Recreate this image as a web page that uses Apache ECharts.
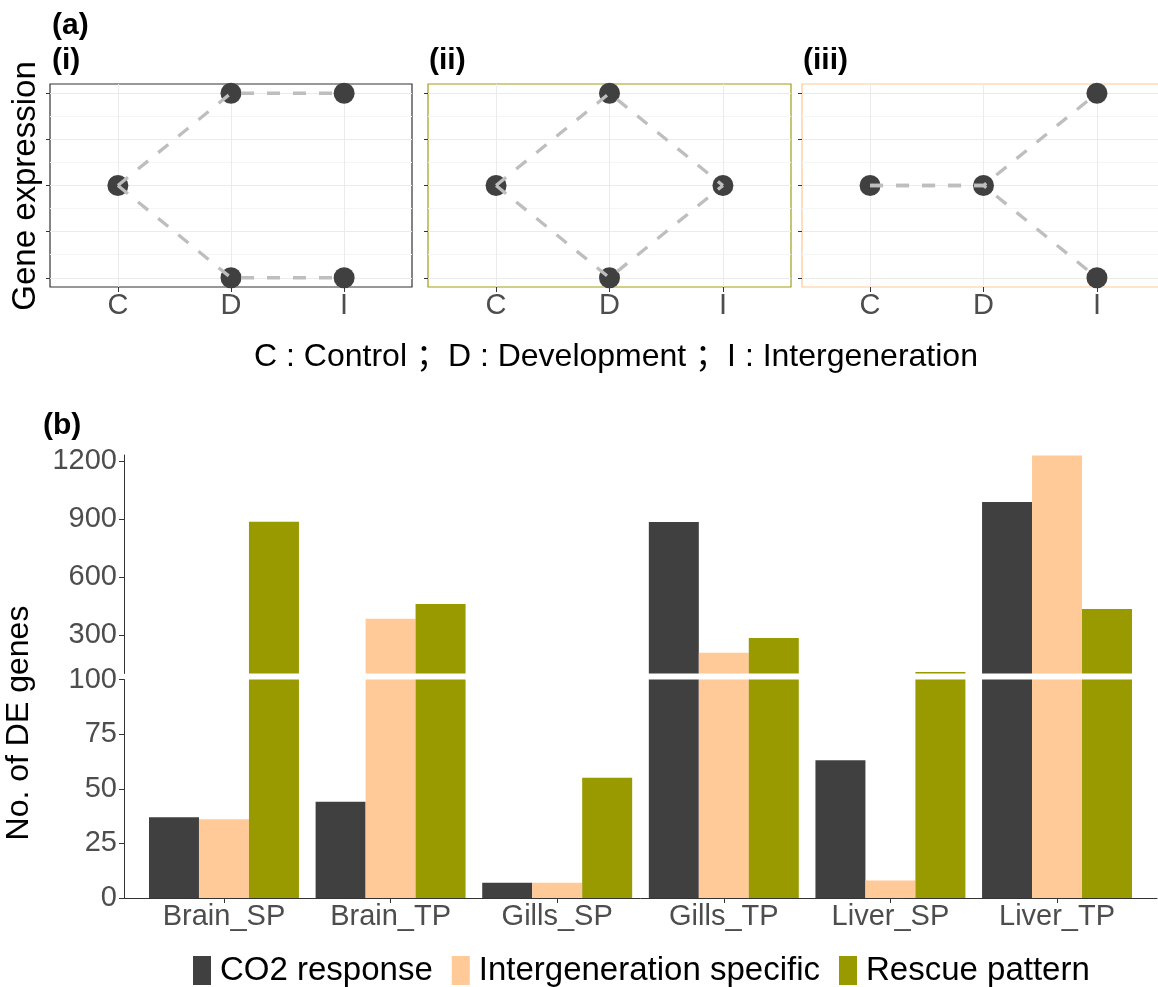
<!DOCTYPE html>
<html>
<head>
<meta charset="utf-8">
<script src="https://cdn.jsdelivr.net/npm/echarts@6/dist/echarts.min.js"></script>
<style>
  html, body { margin: 0; padding: 0; background: #ffffff; }
  #chart { width: 1158px; height: 987px; }
</style>
</head>
<body>
<div id="chart"></div>
<script>
// ---- Panel (a): schematic expression trajectories over the three stages ----
const stages = ['C', 'D', 'I'];
const stageCaption = 'C : Control \uFF1BD : Development \uFF1BI : Intergeneration';
const patternI_up = [2, 3, 3];
const patternI_down = [2, 1, 1];
const patternII_up = [2, 3, 2];
const patternII_down = [2, 1, 2];
const patternIII_up = [2, 2, 3];
const patternIII_down = [2, 2, 1];
const exprTicks = [1, 1.5, 2, 2.5, 3];
const exprMinorTicks = [1.25, 1.75, 2.25, 2.75];

// ---- Panel (b): number of DE genes per tissue / pCO2 group ----
const tissues = ['Brain_SP', 'Brain_TP', 'Gills_SP', 'Gills_TP', 'Liver_SP', 'Liver_TP'];
const co2Response = [37, 44, 7, 884, 63, 987];
const intergenSpecific = [36, 383, 7, 207, 8, 1228];
const rescuePattern = [885, 460, 55, 284, 108, 434];
const upperTicks = [300, 600, 900, 1200];
const groupNames = ['CO2 response', 'Intergeneration specific', 'Rescue pattern'];

const FONT = "'Liberation Sans', Arial, 'Noto Sans CJK SC', sans-serif";
const AXIS_COL = '#333333';
const LABEL_COL = '#4d4d4d';
const COLORS = ['#404040', '#ffca98', '#999900'];

const chart = echarts.init(document.getElementById('chart'), null, { renderer: 'canvas' });

const panels = [
  { left: 50, width: 362, border: '#333333', up: patternI_up, down: patternI_down },
  { left: 428, width: 363, border: '#9f9f14', up: patternII_up, down: patternII_down },
  { left: 802, width: 363, border: '#ffc994', up: patternIII_up, down: patternIII_down }
];
const stageIdx = stages.map((s, i) => i);

const grids = [], xAxes = [], yAxes = [], series = [];

panels.forEach((p, k) => {
  grids.push({
    left: p.left, top: 84, width: p.width, height: 203,
    show: true, borderColor: p.border, borderWidth: 1.2,
    backgroundColor: 'transparent', containLabel: false, outerBoundsMode: 'none'
  });
  xAxes.push({
    type: 'value', gridIndex: k, min: -0.6, max: 2.6,
    axisLine: { show: false, onZero: false },
    axisTick: { show: true, length: 5, customValues: stageIdx, lineStyle: { color: AXIS_COL, width: 1 } },
    axisLabel: {
      show: true, customValues: stageIdx, formatter: v => stages[Math.round(v)],
      color: LABEL_COL, fontSize: 29, fontFamily: FONT, margin: 4
    },
    splitLine: { show: true, lineStyle: { color: '#ebebeb', width: 1 } }
  });
  yAxes.push({
    type: 'value', gridIndex: k, min: 0.9, max: 3.1, position: 'left',
    axisLine: { show: false, onZero: false },
    axisTick: { show: true, length: 4, customValues: exprTicks, lineStyle: { color: AXIS_COL, width: 1 } },
    axisLabel: { show: false },
    splitLine: { show: true, lineStyle: { color: '#ebebeb', width: 1 } }
  });
  yAxes.push({
    type: 'value', gridIndex: k, min: 0.9, max: 3.1, position: 'left',
    axisLine: { show: false, onZero: false },
    axisTick: { show: false, customValues: exprMinorTicks },
    axisLabel: { show: false },
    splitLine: { show: true, lineStyle: { color: '#f5f5f5', width: 1 } }
  });
  // points (unique stage/level pairs)
  const seen = {};
  const pts = [];
  [p.up, p.down].forEach(arr => arr.forEach((v, i) => {
    const key = i + ':' + v;
    if (!seen[key]) { seen[key] = true; pts.push([i, v]); }
  }));
  series.push({
    type: 'scatter', xAxisIndex: k, yAxisIndex: 2 * k, data: pts,
    symbol: 'circle', symbolSize: 21, itemStyle: { color: '#404040', opacity: 1 },
    z: 2, silent: true, clip: false
  });
  [p.up, p.down].forEach(arr => {
    series.push({
      type: 'line', xAxisIndex: k, yAxisIndex: 2 * k,
      data: arr.map((v, i) => [i, v]),
      showSymbol: false, symbol: 'none', clip: false, silent: true,
      lineStyle: { color: '#bebebe', width: 3.3, type: [13, 13], opacity: 1 },
      z: 3
    });
  });
});

// ---- broken-axis bar chart: upper segment (100-1230) and lower segment (0-100) ----
const UPPER = 3, LOWER = 4;
grids.push({ left: 124, top: 455, width: 1033, height: 218.5, show: false, containLabel: false, outerBoundsMode: 'none' });
grids.push({ left: 124, top: 679.5, width: 1033, height: 218.5, show: false, containLabel: false, outerBoundsMode: 'none' });

const tissueIdx = tissues.map((t, i) => i);
xAxes.push({ type: 'value', gridIndex: UPPER, min: -0.6, max: 5.6, show: false });
xAxes.push({
  type: 'value', gridIndex: LOWER, min: -0.6, max: 5.6,
  axisLine: { show: true, onZero: false, lineStyle: { color: AXIS_COL, width: 1 } },
  axisTick: { show: true, length: 5, customValues: tissueIdx, lineStyle: { color: AXIS_COL, width: 1 } },
  axisLabel: {
    show: true, customValues: tissueIdx, formatter: v => tissues[Math.round(v)],
    color: LABEL_COL, fontSize: 29, fontFamily: FONT, margin: 4
  },
  splitLine: { show: false }
});
const plain = v => String(v);
const yUpperIdx = yAxes.length;
yAxes.push({
  type: 'value', gridIndex: UPPER, min: 100, max: 1230,
  axisLine: { show: true, onZero: false, lineStyle: { color: AXIS_COL, width: 1 } },
  axisTick: { show: true, length: 5, customValues: upperTicks, lineStyle: { color: AXIS_COL, width: 1 } },
  axisLabel: { show: true, customValues: upperTicks, formatter: plain, color: LABEL_COL, fontSize: 29, fontFamily: FONT, margin: 7 },
  splitLine: { show: false }
});
const yLowerIdx = yAxes.length;
yAxes.push({
  type: 'value', gridIndex: LOWER, min: 0, max: 100, interval: 25,
  axisLine: { show: true, onZero: false, lineStyle: { color: AXIS_COL, width: 1 } },
  axisTick: { show: true, length: 5, lineStyle: { color: AXIS_COL, width: 1 } },
  axisLabel: { show: true, formatter: plain, color: LABEL_COL, fontSize: 29, fontFamily: FONT, margin: 7 },
  splitLine: { show: false }
});

[co2Response, intergenSpecific, rescuePattern].forEach((vals, g) => {
  [[UPPER, yUpperIdx], [LOWER, yLowerIdx]].forEach(([xi, yi]) => {
    series.push({
      type: 'bar', name: groupNames[g], xAxisIndex: xi, yAxisIndex: yi,
      data: vals.map((v, i) => [i, v]),
      barCategoryGap: '10%', barGap: '0%', clip: true, silent: true,
      itemStyle: { color: COLORS[g], opacity: 1 }
    });
  });
});

const labelText = (text, x, y, extra) => Object.assign({
  type: 'text', x: x, y: y, silent: true,
  style: Object.assign({
    text: text, fill: '#000000', fontFamily: FONT, fontSize: 30,
    align: 'left', verticalAlign: 'middle'
  }, extra || {})
});

const option = {
  animation: false,
  backgroundColor: '#ffffff',
  grid: grids,
  xAxis: xAxes,
  yAxis: yAxes,
  series: series,
  legend: {
    data: groupNames, left: 193, top: 954, padding: 0,
    icon: 'rect', itemWidth: 18, itemHeight: 29, itemGap: 19,
    selectedMode: false,
    textStyle: { fontSize: 33, color: '#000000', fontFamily: FONT, padding: [0, 0, 0, 4] }
  },
  graphic: [
    labelText('(a)', 52, 26, { fontWeight: 'bold' }),
    labelText('(i)', 52, 61, { fontWeight: 'bold' }),
    labelText('(ii)', 429, 61, { fontWeight: 'bold' }),
    labelText('(iii)', 803, 61, { fontWeight: 'bold' }),
    labelText('(b)', 43, 426, { fontWeight: 'bold' }),
    Object.assign(labelText('Gene expression', 26, 186, { fontSize: 33, align: 'center' }), { rotation: Math.PI / 2 }),
    labelText(stageCaption, 616, 357, { fontSize: 32, align: 'center' }),
    Object.assign(labelText('No. of DE genes', 19, 723, { fontSize: 32, align: 'center' }), { rotation: Math.PI / 2 })
  ]
};

chart.setOption(option);
</script>
</body>
</html>
